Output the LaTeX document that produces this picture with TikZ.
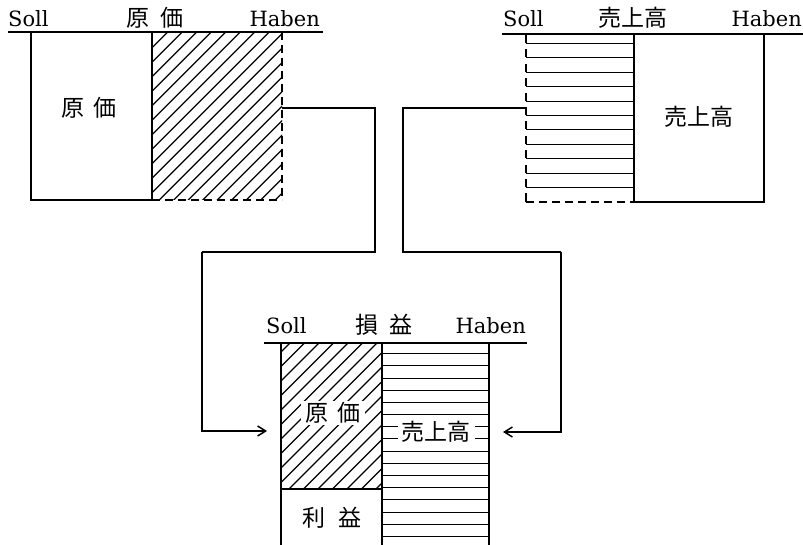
\documentclass[tikz,border=0pt]{standalone}
\usepackage{fontspec}
\newfontfamily\jp{Noto Sans CJK JP}
\newfontfamily\latf{DejaVu Serif}
\usetikzlibrary{arrows.meta}
\tikzset{
  tline/.style={line width=1.5pt},
  edge/.style={line width=1.5pt},
  dashedge/.style={line width=1.5pt, dash pattern=on 8pt off 5pt},
  hatch/.style={line width=1.3pt},
  conn/.style={line width=1.3pt},
  arr/.style={conn, -{Straight Barb[length=8pt,width=10pt,line width=1.5pt]}},
  lat/.style={font=\latf\fontsize{21}{26}\selectfont, inner sep=0pt},
  jpt/.style={font=\jp\fontsize{23}{28}\selectfont, inner sep=0pt},
  jpbox/.style={font=\jp\fontsize{23}{28}\selectfont, fill=white, inner xsep=4pt, inner ysep=1pt},
}
\begin{document}
\begin{tikzpicture}[x=1pt,y=-1pt]
\useasboundingbox (0,0) rectangle (803,545);

% ---------------- top-left account: 原価 ----------------
\node[lat, anchor=base west] (s1) at (8,27) {Soll};
\node[jpt, anchor=base] (t1) at (155,27) {原\hspace{0.45em}価};
\node[lat, anchor=base east] (h1) at (320,27) {Haben};
\draw[tline] (8,32) -- (323,32);
\begin{scope}
  \clip (152,32) rectangle (282,200);
  \foreach \k in {0,...,20}{
    \pgfmathsetmacro{\c}{185.3+14.5*\k}
    \draw[hatch] ({\c-210},210) -- ({\c-20},20);
  }
\end{scope}
\draw[edge] (31,32) -- (31,200) -- (152,200);
\draw[edge] (152,32) -- (152,200);
\draw[dashedge] (282,32) -- (282,200);
\draw[dashedge] (152,200) -- (282,200);
\node[jpt] (g1) at (89,108) {原\hspace{0.4em}価};
\coordinate (hlR) at (282,108);

% ---------------- top-right account: 売上高 ----------------
\node[lat, anchor=base west] (s2) at (503,27) {Soll};
\node[jpt, anchor=base] (t2) at (633,27) {売上高};
\node[lat, anchor=base east] (h2) at (802,27) {Haben};
\draw[tline] (502,34) -- (803,34);
\foreach \k in {0,...,10}{
  \pgfmathsetmacro{\yy}{round(42.7+14.46*\k)+0.5}
  \draw[hatch] (634,\yy) -- (526,\yy);
  \draw[edge] (526,\yy) -- (526,{\yy-8.5});
}
\draw[edge] (526,193.5) -- (526,202);
\draw[dashedge] (526,202) -- (634,202);
\draw[edge] (634,34) -- (634,202) -- (764,202) -- (764,34);
\node[jpt] (g2) at (699,117) {売上高};
\coordinate (hrL) at (526,108);

% ---------------- bottom account: 損益 ----------------
\node[lat, anchor=base west] (s3) at (266,334) {Soll};
\node[jpt, anchor=base] (t3) at (384,334) {損\hspace{0.45em}益};
\node[lat, anchor=base east] (h3) at (526,334) {Haben};
\draw[tline] (264,343) -- (527,343);
\begin{scope}
  \clip (281,343) rectangle (382,489);
  \foreach \k in {0,...,16}{
    \pgfmathsetmacro{\c}{633+14.5*\k}
    \draw[hatch] ({\c-500},500) -- ({\c-330},330);
  }
\end{scope}
\foreach \k in {0,...,15}{
  \pgfmathsetmacro{\yy}{round(353.3+12.17*\k)+0.5}
  \draw[hatch] (382,\yy) -- (489,\yy);
}
\draw[edge] (281,343) -- (281,546);
\draw[edge] (382,343) -- (382,546);
\draw[edge] (489,343) -- (489,546);
\draw[edge] (281,489) -- (382,489);
\node[jpbox] (g3) at (333,413) {原\hspace{0.4em}価};
\node[jpbox] (g4) at (436,432) {売上高};
\node[jpt] (g5) at (332,518) {利\hspace{0.6em}益};

% ---------------- connectors ----------------
\coordinate (k1) at (375,252);
\coordinate (k2) at (202,252);
\coordinate (bl) at (267,431);
\coordinate (k3) at (403,252);
\coordinate (k4) at (561,252);
\coordinate (br) at (503,432);
\draw[conn] (hlR) -| (k1) -- (k2);
\draw[arr] (k2) |- (bl);
\draw[conn] (hrL) -| (k3) -- (k4);
\draw[arr] (k4) |- (br);
\end{tikzpicture}
\end{document}
